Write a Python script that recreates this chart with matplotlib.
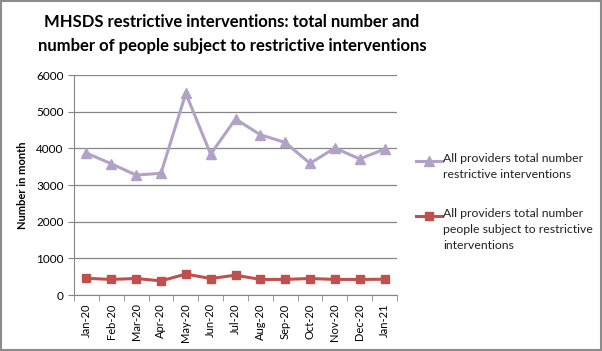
import matplotlib.pyplot as plt
from matplotlib.lines import Line2D
import numpy as np

months = ["Jan-20", "Feb-20", "Mar-20", "Apr-20", "May-20", "Jun-20", "Jul-20",
          "Aug-20", "Sep-20", "Oct-20", "Nov-20", "Dec-20", "Jan-21"]
total_interventions = [3870, 3580, 3270, 3320, 5500, 3840, 4800,
                       4370, 4160, 3590, 4010, 3710, 3980]
people_subject = [455, 425, 450, 385, 570, 450, 540,
                  425, 425, 450, 425, 425, 430]
legend_labels = ['All providers total number\nrestrictive interventions',
                 'All providers total number\npeople subject to restrictive\ninterventions']

plt.rcParams['font.family'] = ['Lato', 'DejaVu Sans']

W, H = 602, 351
fig = plt.figure(figsize=(W / 100, H / 100), dpi=100)
ax = fig.add_axes([74 / W, 1 - 295 / H, (397 - 74) / W, 220 / H])

x = np.arange(len(months))
styles = [dict(color='#B3A2C7', marker='^', ms=7), dict(color='#C0504D', marker='s', ms=6)]
ax.plot(x, total_interventions, lw=2.2, **styles[0])
ax.plot(x, people_subject, lw=2.2, **styles[1])

ax.set_xlim(-0.5, len(months) - 0.5)
ax.set_ylim(0, 6000)
ax.set_yticks(range(0, 6001, 1000))
ax.set_xticks(x)
ax.set_xticklabels(months, rotation=90, fontsize=8)
ax.set_xticks(np.arange(-0.5, len(months), 1), minor=True)
ax.tick_params(axis='x', which='major', length=0, pad=6)
ax.tick_params(axis='x', which='minor', length=4, color='#868686')
ax.tick_params(axis='y', labelsize=8.5, length=4, color='#868686')
ax.grid(axis='y', color='#868686', lw=0.9)
ax.set_axisbelow(True)
for s in ['top', 'right']:
    ax.spines[s].set_visible(False)
ax.spines['left'].set_color('#868686')
ax.spines['bottom'].set_color('#868686')
ax.set_ylabel('Number in month', fontsize=8, fontweight='bold', labelpad=6)

fig.text(232 / W, 1 - 34 / H,
         'MHSDS restrictive interventions: total number and\nnumber of people subject to restrictive interventions',
         ha='center', va='center', fontsize=12, fontweight='bold', linespacing=1.55)

# legend, handle aligned with first text line
for label, st, ytop in zip(legend_labels, styles, [161, 216]):
    fig.add_artist(Line2D([416 / W, 442 / W], [1 - ytop / H] * 2, lw=2.2,
                          color=st['color'], transform=fig.transFigure))
    fig.add_artist(Line2D([429 / W], [1 - ytop / H], marker=st['marker'], ms=st['ms'],
                          color=st['color'], transform=fig.transFigure))
    fig.text(443 / W, 1 - (ytop - 8) / H, label, ha='left', va='top',
             fontsize=8.8, linespacing=1.55, color='#222222')

fig.patches.append(plt.Rectangle((0.002, 0.003), 0.996, 0.994, transform=fig.transFigure,
                                 fill=False, edgecolor='#8c8c8c', lw=1.5))

fig.savefig('out.png', dpi=100)
